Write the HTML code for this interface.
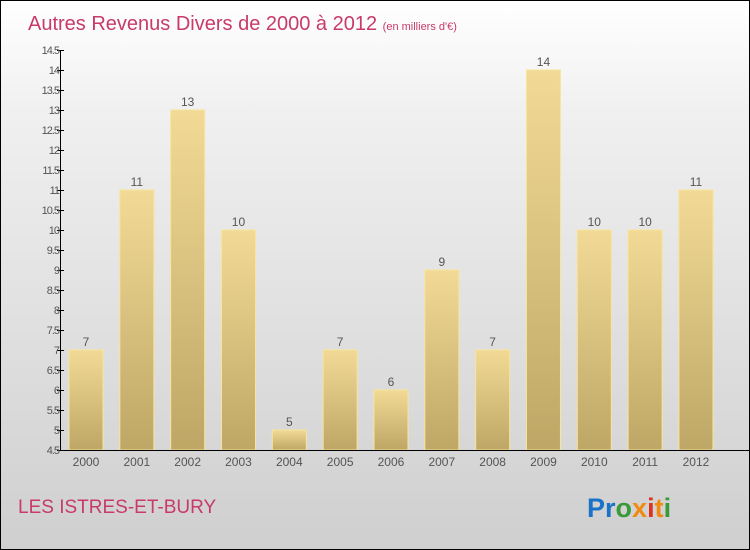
<!DOCTYPE html>
<html><head><meta charset="utf-8"><style>
body{margin:0}
#c{width:748px;height:548px;border:1px solid #000;background:linear-gradient(#fff,#f0f0f0 20%,#cfcfcf);position:relative;overflow:hidden;font-family:"Liberation Sans",sans-serif}
</style></head><body>
<div id="c">
<svg width="748" height="548" style="position:absolute;left:0;top:0">
<defs><linearGradient id="g" x1="0" y1="0" x2="0" y2="1"><stop offset="0" stop-color="#f2da96"/><stop offset="1" stop-color="#bea766"/></linearGradient></defs>
<text x="27" y="29" font-size="20" fill="#c83a68">Autres Revenus Divers de 2000 à 2012 <tspan font-size="11">(en milliers d'€)</tspan></text>
<g id="bars"></g>
<g id="axes"></g>
<text x="17" y="512" font-size="19" fill="#c83a68">LES ISTRES-ET-BURY</text>
<text x="586" y="516" font-size="27" font-weight="bold"><tspan fill="#1a73c8">Pr</tspan><tspan fill="#3a9a3a">o</tspan><tspan fill="#f08a10">x</tspan><tspan fill="#e03020">i</tspan><tspan fill="#f08a10">t</tspan><tspan fill="#3a9a3a">i</tspan></text>
</svg>
</div>
<script>
const categories=["2000","2001","2002","2003","2004","2005","2006","2007","2008","2009","2010","2011","2012"];
const values=[7,11,13,10,5,7,6,9,7,14,10,10,11];
const ticks=[4.5,5,5.5,6,6.5,7,7.5,8,8.5,9,9.5,10,10.5,11,11.5,12,12.5,13,13.5,14,14.5];
const ns="http://www.w3.org/2000/svg";
const y=v=>449-(v-4.5)*40;
const x=i=>85+i*50.83;
const bars=document.getElementById('bars'),axes=document.getElementById('axes');
function mk(t,a,p){const e=document.createElementNS(ns,t);for(const k in a)e.setAttribute(k,a[k]);p.appendChild(e);return e;}
values.forEach((v,i)=>{
 const r=mk('rect',{x:x(i)-17,y:y(v),width:34,height:449-y(v),fill:'url(#g)',stroke:'#f8e49a','stroke-width':1},bars);
 
 
 const t=mk('text',{x:x(i),y:y(v)-4,'font-size':12,fill:'#555','text-anchor':'middle'},bars);
 t.textContent=v;
 
 
 const c=mk('text',{x:x(i),y:465,'font-size':12,fill:'#555','text-anchor':'middle'},axes);
 c.textContent=categories[i];
 
 
});
const ya=mk('line',{x1:59.5,y1:49,x2:59.5,y2:449.5,stroke:'#000'},axes);


const xa=mk('line',{x1:59,y1:449.5,x2:748,y2:449.5,stroke:'#000'},axes);


ticks.forEach(v=>{
 mk('line',{x1:56,y1:y(v)+.5,x2:63,y2:y(v)+.5,stroke:'#000'},axes);
 const t=mk('text',{x:58,y:y(v)+4,'font-size':11,fill:'#555','text-anchor':'end','letter-spacing':'-1'},axes);
 t.textContent=v;
 
 
});
</script>
</body></html>
